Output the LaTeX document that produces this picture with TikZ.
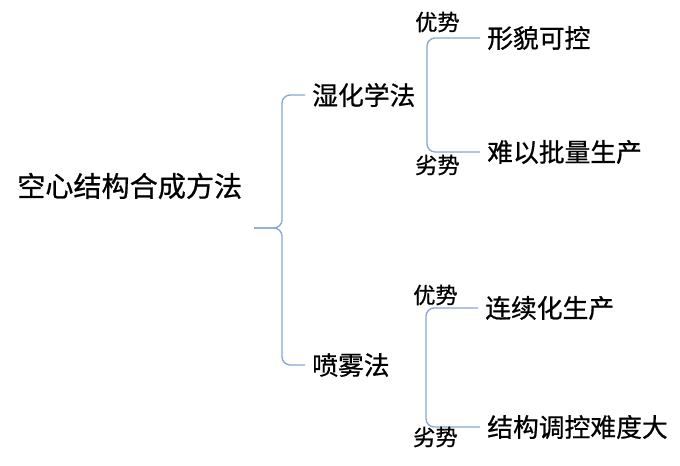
\documentclass[tikz,border=0pt]{standalone}
\usepackage{fontspec}
\setmainfont{Noto Sans CJK SC}[FakeBold=0.7]
\usepackage{tikz}
\usetikzlibrary{calc}
\definecolor{bracketblue}{RGB}{135,165,210}

\begin{document}
\begin{tikzpicture}[x=0.03cm, y=-0.03cm,
        bracket/.style={draw=bracketblue, line width=1.1pt, rounded corners=7pt},
        lvl/.style={anchor=west, inner ysep=0pt, inner xsep=6pt, font=\fontsize{22}{22}\selectfont},
        tag/.style={anchor=west, inner sep=0pt, font=\fontsize{19}{19}\selectfont}]
            \useasboundingbox (0,0) rectangle (680,465);
            \node[anchor=west, inner sep=0pt, font=\fontsize{24}{24}\selectfont] (root) at (17,186) {空心结构合成方法};
            \coordinate (tip) at (254,228);
            \node[lvl] (wet) at (305,95) {湿化学法};
            \node[lvl] (spray) at (305,365) {喷雾法};
            \draw[bracket] (wet.west) -| ($(tip)+(28,0)$) -- (tip);
            \draw[bracket] (spray.west) -| ($(tip)+(28,0)$) -- (tip);
            \node[lvl] (shape) at (480,38) {形貌可控};
            \node[lvl] (batch) at (480,152) {难以批量生产};
            \coordinate (wetjoint) at (427,95);
            \draw[bracket] (shape.west) -| (wetjoint) |- (batch.west);
            \node[tag] (good1) at (415,22) {优势};
            \node[tag] (bad1) at (415,165) {劣势};
            \node[lvl] (cont) at (478,308) {连续化生产};
            \node[lvl] (tune) at (480,427) {结构调控难度大};
            \coordinate (sprayjoint) at (426,367);
            \draw[bracket] (cont.west) -| (sprayjoint) |- (tune.west);
            \node[tag] (good2) at (413,295) {优势};
            \node[tag] (bad2) at (413,437) {劣势};
        \end{tikzpicture}
\end{document}
